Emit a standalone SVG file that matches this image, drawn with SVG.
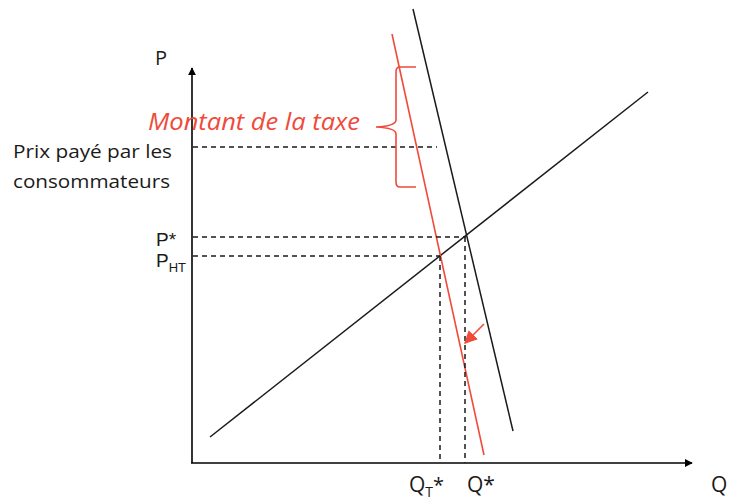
<svg xmlns="http://www.w3.org/2000/svg" width="732" height="503" viewBox="0 0 732 503">
<style>
.t{font-family:"Open Sans","Liberation Sans",sans-serif;fill:#1a1a1a}
.s{font-family:"Liberation Sans","Open Sans",sans-serif;fill:#1a1a1a}
.ax{stroke:#000;stroke-width:1.6;fill:none}
.ln{stroke:#1a1a1a;stroke-width:1.5;fill:none}
.red{stroke:#f04a3a;stroke-width:1.6;fill:none}
.dash{stroke:#1a1a1a;stroke-width:1.5;stroke-dasharray:5 4;fill:none}
</style>
<defs>
<marker id="ah" viewBox="0 0 10 10" refX="9" refY="5" markerWidth="8" markerHeight="8" markerUnits="userSpaceOnUse" orient="auto"><path d="M0,0L10,5L0,10z" fill="#000"/></marker>
<marker id="rh" viewBox="0 0 10 10" refX="9" refY="5" markerWidth="13" markerHeight="13" markerUnits="userSpaceOnUse" orient="auto"><path d="M0,0L10,5L0,10z" fill="#f04a3a"/></marker>
</defs>
<rect width="732" height="503" fill="#fff"/>
<g id="axes">
<line class="ax" x1="192" y1="463" x2="192" y2="68" marker-end="url(#ah)"/>
<line class="ax" x1="191" y1="463" x2="692" y2="463" marker-end="url(#ah)"/>
<text class="t" x="155" y="65" font-size="20">P</text>
<text class="t" x="711" y="492" font-size="21">Q</text>
</g>
<g id="curves">
<line id="offre" class="ln" x1="210" y1="437" x2="648" y2="92"/>
<line id="demande" class="ln" x1="413" y1="9" x2="513" y2="431"/>
<line id="demande-taxe" class="red" x1="392" y1="34" x2="484" y2="455"/>
</g>
<g id="connectors">
<line class="dash" x1="193" y1="147" x2="437" y2="147"/>
<line class="dash" x1="193" y1="237" x2="466" y2="237"/>
<line class="dash" x1="193" y1="256" x2="440" y2="256"/>
<line class="dash" x1="465" y1="237" x2="465" y2="463"/>
<line class="dash" x1="440" y1="256" x2="440" y2="463"/>
<line class="red" x1="484" y1="324" x2="465" y2="343" marker-end="url(#rh)"/>
</g>
<g id="taxe">
<path class="red" d="M416,67 L400,67 Q396,67 396,72 L396,120 Q396,126 376,127 Q396,128 396,134 L396,182 Q396,187 400,187 L416,187"/>
<text x="148" y="130" font-family="'Open Sans','Liberation Sans',sans-serif" font-style="italic" font-size="24" fill="#f04a3a" textLength="212" lengthAdjust="spacingAndGlyphs">Montant de la taxe</text>
</g>
<g id="labels">
<text class="t" x="13" y="158" font-size="19" textLength="159" lengthAdjust="spacingAndGlyphs">Prix payé par les</text>
<text class="t" x="13" y="188" font-size="19" textLength="157" lengthAdjust="spacingAndGlyphs">consommateurs</text>
<text class="s" x="156" y="246" font-size="19">P*</text>
<text class="s" x="156" y="267" font-size="19">P<tspan font-size="13" dy="5">HT</tspan></text>
<text class="t" x="409" y="492" font-size="21">Q<tspan font-size="14" dy="5">T</tspan><tspan dy="-5" font-size="20">*</tspan></text>
<text class="t" x="467" y="492" font-size="21">Q*</text>
</g>
</svg>
